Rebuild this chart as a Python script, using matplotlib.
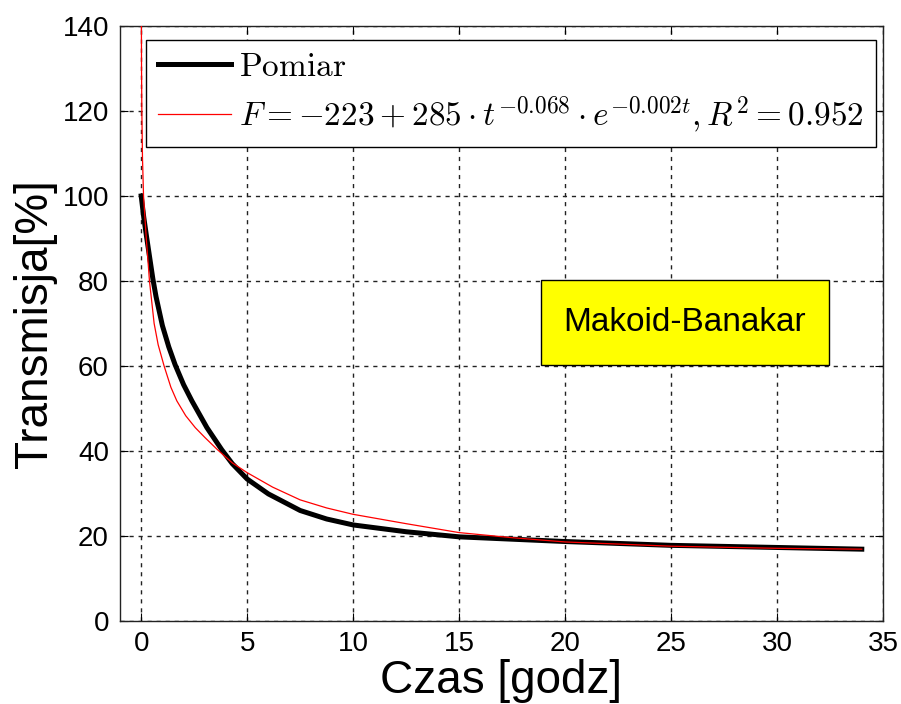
import matplotlib
matplotlib.use("Agg")
import matplotlib.pyplot as plt
from matplotlib.patches import Rectangle

plt.rcParams["font.family"] = ["Liberation Sans", "DejaVu Sans"]
plt.rcParams["mathtext.fontset"] = "cm"

# measured transmission curve
t_meas = [0, 0.12, 0.25, 0.55, 0.7, 1.0, 1.3, 1.6, 2.0, 2.39, 3.1, 3.8,
          4.3, 5.0, 6.0, 7.5, 8.75, 10, 12.5, 15, 20, 25, 30, 34]
v_meas = [100, 95, 90.5, 80.5, 76.3, 69.5, 64.5, 60.3, 55.6, 51.8, 45.5, 40.3,
          37.0, 33.4, 29.9, 26.0, 24.0, 22.6, 21.0, 19.8, 18.7, 17.8, 17.3, 16.9]

# fitted Makoid-Banakar curve
t_fit = [0.005, 0.015, 0.03, 0.06, 0.11, 0.24, 0.39, 0.61, 0.8, 1.08, 1.4,
         1.68, 2.1, 2.55, 3.0, 3.6, 4.3, 5, 6.2, 7.5, 8.75, 10, 12.5, 15,
         17.5, 20, 25, 30, 34]
v_fit = [148, 130, 120, 109, 100, 90, 80, 70, 65, 60, 55,
         51.8, 48.3, 45.5, 43.2, 40.3, 37.2, 34.9, 31.5, 28.5, 26.6, 25.1, 22.9, 20.8,
         19.6, 18.6, 17.6, 17.1, 16.9]

x_ticks = [0, 5, 10, 15, 20, 25, 30, 35]
y_ticks = [0, 20, 40, 60, 80, 100, 120, 140]

label_meas = r"$\mathrm{Pomiar}$"
label_fit = r"$F=-223+285\cdot t^{-0.068}\cdot e^{-0.002t}, R^2=0.952$"
model_name = "Makoid-Banakar"

fig = plt.figure(figsize=(9.01, 7.04), dpi=100)
ax = fig.add_axes([0.1332, 0.1179, 0.8468, 0.8452])

ax.plot(t_meas, v_meas, color="black", lw=3.6, label=label_meas, zorder=3)
ax.plot(t_fit, v_fit, color="red", lw=0.9, label=label_fit, zorder=4)

ax.set_xlim(-1, 35)
ax.set_ylim(0, 140)
ax.set_xticks(x_ticks)
ax.set_yticks(y_ticks)
ax.tick_params(direction="in", length=6, width=0.8, top=True, right=True,
               labelsize=20)
ax.tick_params(axis="y", pad=8)
ax.tick_params(axis="x", pad=7)
for s in ax.spines.values():
    s.set_linewidth(1.0)
    s.set_color("#222222")

ax.grid(True, color="#222222", linestyle=(0, (3, 3.5)), linewidth=1.0)
ax.set_axisbelow(True)

ax.set_xlabel("Czas [godz]", fontsize=33, labelpad=2)
ax.set_ylabel("Transmisja[%]", fontsize=33, labelpad=4)

leg = ax.legend(loc="upper left", bbox_to_anchor=(0.034, 0.976), borderaxespad=0,
                fontsize=24, handlelength=2.2, handletextpad=0.25,
                fancybox=False, framealpha=1, edgecolor="black",
                borderpad=0.35, labelspacing=0.35)
leg.get_frame().set_linewidth(1.0)

ax.add_patch(Rectangle((0.5518, 0.4303), 0.3775, 0.1429, transform=ax.transAxes,
                       facecolor="#ffff00", edgecolor="black", lw=1.0, zorder=5))
ax.text(0.7405, 0.5017, model_name, transform=ax.transAxes, fontsize=24,
        ha="center", va="center", zorder=6)

fig.savefig("out.png", dpi=100)
